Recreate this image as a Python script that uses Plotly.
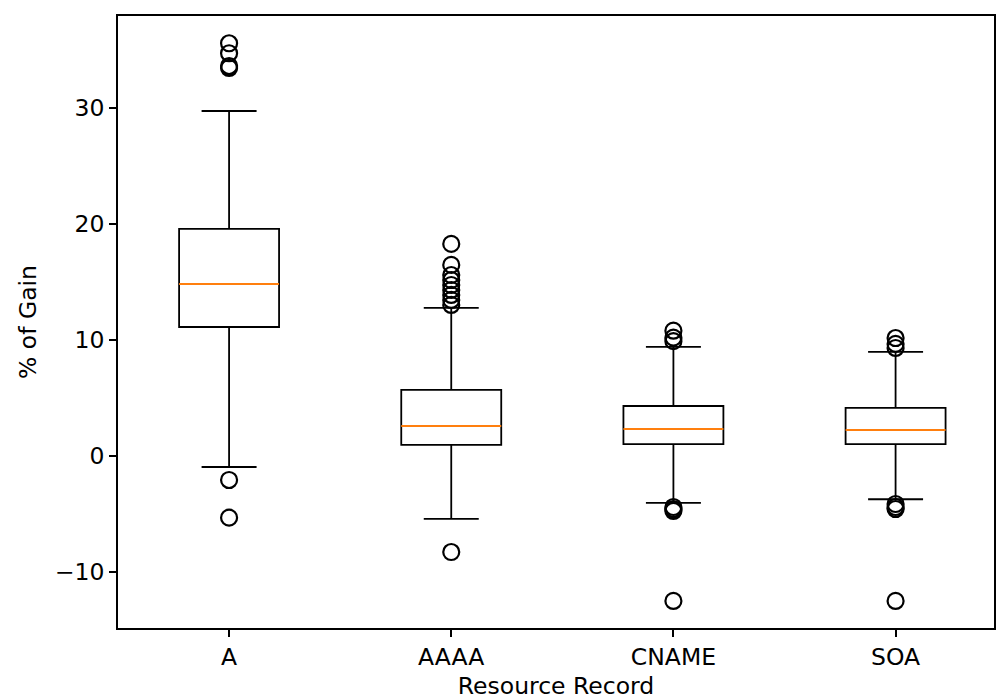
import plotly.graph_objects as go

categories = ["A", "AAAA", "CNAME", "SOA"]
positions = [1, 2, 3, 4]
q1 = [11.12, 0.95, 1.03, 1.03]
median = [14.83, 2.59, 2.33, 2.24]
q3 = [19.57, 5.69, 4.31, 4.14]
lower_whisker = [-0.95, -5.43, -4.05, -3.73]
upper_whisker = [29.74, 12.76, 9.40, 8.97]
outliers = [
    [35.58, 34.72, 33.62, 33.45, -2.07, -5.32],
    [18.28, 16.47, 15.6, 15.17, 14.74, 14.31, 13.88, 13.45, 13.02, -8.28],
    [10.8, 10.2, 9.9, -4.4, -4.57, -4.74, -12.5],
    [10.17, 9.66, 9.31, -4.14, -4.4, -4.57, -12.5],
]
y_ticks = [-10, 0, 10, 20, 30]
box_width = 0.45

fig = go.Figure()
for i, p in enumerate(positions):
    fig.add_trace(go.Box(
        x=[p], q1=[q1[i]], median=[median[i]], q3=[q3[i]],
        lowerfence=[lower_whisker[i]], upperfence=[upper_whisker[i]],
        width=box_width, whiskerwidth=0.55,
        line=dict(color="black", width=1.8), fillcolor="rgba(0,0,0,0)",
        boxpoints=False, showlegend=False, hoverinfo="skip",
    ))
    fig.add_trace(go.Scatter(
        x=[p - box_width / 2, p + box_width / 2], y=[median[i], median[i]],
        mode="lines", line=dict(color="#ff7f0e", width=2),
        showlegend=False, hoverinfo="skip",
    ))
    fig.add_trace(go.Scatter(
        x=[p] * len(outliers[i]), y=outliers[i], mode="markers",
        marker=dict(symbol="circle-open", size=16, color="black", line=dict(width=2.2, color="black")),
        showlegend=False, hoverinfo="skip",
    ))

font = dict(family="DejaVu Sans", size=23.5, color="black")
fig.update_layout(
    width=997, height=700,
    margin=dict(l=118, r=1, t=16, b=72),
    plot_bgcolor="white", paper_bgcolor="white",
    font=font,
    xaxis=dict(
        range=[0.5, 4.443], tickmode="array", tickvals=positions, ticktext=categories,
        showgrid=False, zeroline=False, showline=True, linecolor="black", linewidth=1.6,
        mirror=True, ticks="outside", ticklen=7, tickwidth=1.5, tickcolor="black",
        title=dict(text="Resource Record", font=font, standoff=12),
    ),
    yaxis=dict(
        range=[-14.83, 37.93], tickmode="array", tickvals=y_ticks,
        ticktext=["\u221210", "0", "10", "20", "30"],
        showgrid=False, zeroline=False, showline=True, linecolor="black", linewidth=1.6,
        mirror=True, ticks="outside", ticklen=7, tickwidth=1.5, tickcolor="black",
        title=dict(text="% of Gain", font=font, standoff=12),
    ),
)
fig.write_html("out.html")
